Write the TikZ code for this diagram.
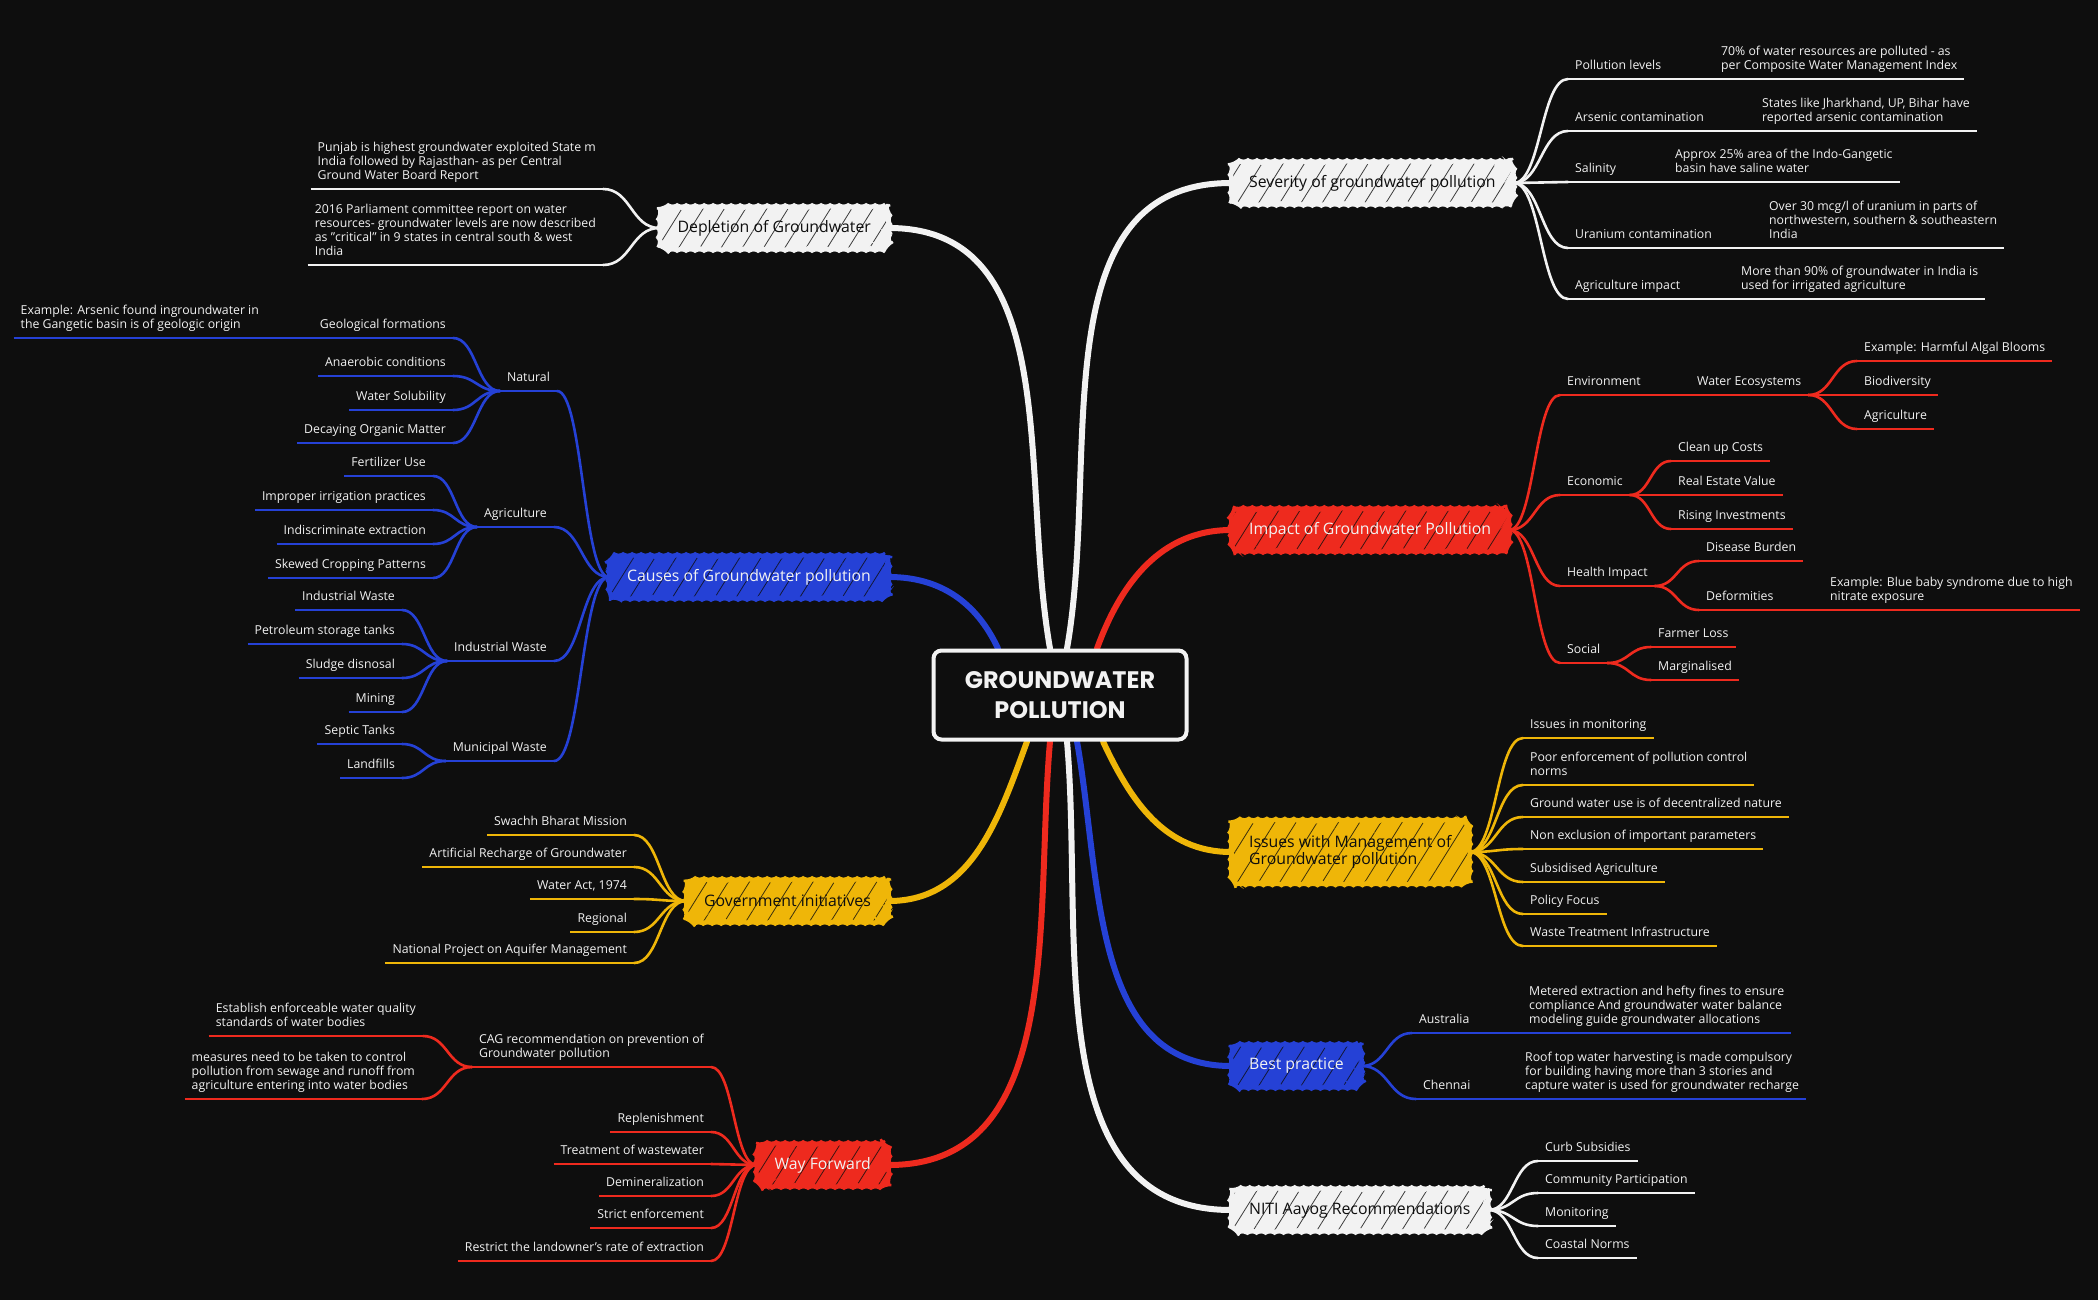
\documentclass[tikz,border=0pt]{standalone}
\usepackage{fontspec}
\setmainfont{Open Sans}
\newfontfamily\titlefont{Poppins}
\usetikzlibrary{%
  calc,%
  backgrounds,%
  patterns.meta,%
  decorations.pathmorphing%
}
\definecolor{bg}{HTML}{0E0E0E}
\definecolor{mred}{HTML}{EE2A1E}
\definecolor{mblue}{HTML}{2541D6}
\definecolor{myel}{HTML}{EFB608}
\definecolor{mwhite}{HTML}{F2F2F2}
\tikzset{leafR/.style = {anchor=south west, align=left, text=mwhite,
    inner xsep=0.35cm, inner ysep=0.25cm, font=\fontsize{17.5}{20}\selectfont,
    execute at end node=\strut,
    append after command={(\tikzlastnode.south west) edge[draw=#1, line width=0.13cm]
      (\tikzlastnode.south east)}},
  leafL/.style = {leafR=#1, anchor=south east, align=right},
  branch/.style = {rounded corners=0.35cm, fill=#1, inner xsep=0.9cm,
    minimum height=2.15cm, align=left, font=\fontsize{22.5}{25}\selectfont,
    postaction={pattern={Lines[angle=58,distance=0.9cm,line width=0.04cm]}, pattern color=bg!80!#1},
    postaction={draw=#1, line width=0.12cm, decorate,
      decoration={zigzag, segment length=0.45cm, amplitude=0.1cm}}},
  gwbox/.style = {draw=mwhite, line width=0.2cm, rounded corners=0.4cm, fill=bg,
    text=mwhite, align=center, minimum width=12.65cm, minimum height=4.45cm,
    font=\titlefont\bfseries\fontsize{34}{42}\selectfont},
  trunk/.style = {draw=#1, line width=0.3cm, line cap=round},
  twig/.style = {draw=#1, line width=0.13cm, line cap=round},
  fork/.style = {to path={let \p1=(\tikztostart), \p2=(\tikztotarget) in
    .. controls ({(\x1+\x2)/2},\y1) and ({(\x1+\x2)/2},\y2) .. (\tikztotarget)}}}

\begin{document}
\begin{tikzpicture}[x=0.05cm, y=-0.05cm]
  \useasboundingbox (0,0) rectangle (2098,1300);
  \node[gwbox] (gw) at (1060,695) {GROUNDWATER\\POLLUTION};

  % severity
  \node[branch=mwhite, text=bg, anchor=west] (sev) at (1231,183) {Severity of groundwater pollution};
  \node[leafR=mwhite] (sev1) at (1568,79) {Pollution levels};
  \node[leafR=mwhite] (sev1a) at (1714,79) {70\% of water resources are polluted - as\\per Composite Water Management Index};
  \node[leafR=mwhite] (sev2) at (1568,131) {Arsenic contamination};
  \node[leafR=mwhite] (sev2a) at (1755,131) {States like Jharkhand, UP, Bihar have\\reported arsenic contamination};
  \node[leafR=mwhite] (sev3) at (1568,182) {Salinity};
  \node[leafR=mwhite] (sev3a) at (1668,182) {Approx 25\% area of the Indo-Gangetic\\basin have saline water};
  \node[leafR=mwhite] (sev4) at (1568,248) {Uranium contamination};
  \node[leafR=mwhite] (sev4a) at (1762,248) {Over 30 mcg/l of uranium in parts of\\northwestern, southern \& southeastern\\India};
  \node[leafR=mwhite] (sev5) at (1568,299) {Agriculture impact};
  \node[leafR=mwhite] (sev5a) at (1734,299) {More than 90\% of groundwater in India is\\used for irrigated agriculture};

  % impact
  \node[branch=mred, text=mwhite, anchor=west] (imp) at (1231,530) {Impact of Groundwater Pollution};
  \node[leafR=mred] (env) at (1560,395) {Environment};
  \node[leafR=mred] (eco) at (1690,395) {Water Ecosystems};
  \node[leafR=mred] (alg) at (1857,361) {Example: Harmful Algal Blooms};
  \node[leafR=mred] (bio) at (1857,395) {Biodiversity};
  \node[leafR=mred] (agri) at (1857,429) {Agriculture};
  \node[leafR=mred] (econ) at (1560,495) {Economic};
  \node[leafR=mred] (cln) at (1671,461) {Clean up Costs};
  \node[leafR=mred] (est) at (1671,495) {Real Estate Value};
  \node[leafR=mred] (inv) at (1671,529) {Rising Investments};
  \node[leafR=mred] (hlt) at (1560,586) {Health Impact};
  \node[leafR=mred] (dis) at (1699,561) {Disease Burden};
  \node[leafR=mred] (dfm) at (1699,610) {Deformities};
  \node[leafR=mred] (dfm1) at (1823,610) {Example: Blue baby syndrome due to high\\nitrate exposure};
  \node[leafR=mred] (soc) at (1560,663) {Social};
  \node[leafR=mred] (far) at (1651,647) {Farmer Loss};
  \node[leafR=mred] (mar) at (1651,680) {Marginalised};

  % issues
  \node[branch=myel, text=bg, anchor=west, minimum height=3.2cm] (iss) at (1231,852) {Issues with Management of\\Groundwater pollution};
  \node[leafR=myel] (iss1) at (1523,738) {Issues in monitoring};
  \node[leafR=myel] (iss2) at (1523,785) {Poor enforcement of pollution control\\norms};
  \node[leafR=myel] (iss3) at (1523,817) {Ground water use is of decentralized nature};
  \node[leafR=myel] (iss4) at (1523,849) {Non exclusion of important parameters};
  \node[leafR=myel] (iss5) at (1523,882) {Subsidised Agriculture};
  \node[leafR=myel] (iss6) at (1523,914) {Policy Focus};
  \node[leafR=myel] (iss7) at (1523,946) {Waste Treatment Infrastructure};

  % best practice
  \node[branch=mblue, text=mwhite, anchor=west] (best) at (1231,1066) {Best practice};
  \node[leafR=mblue] (aus) at (1412,1033) {Australia};
  \node[leafR=mblue] (aus1) at (1522,1033) {Metered extraction and hefty fines to ensure\\compliance And groundwater water balance\\modeling guide groundwater allocations};
  \node[leafR=mblue] (che) at (1416,1099) {Chennai};
  \node[leafR=mblue] (che1) at (1518,1099) {Roof top water harvesting is made compulsory\\for building having more than 3 stories and\\capture water is used for groundwater recharge};

  % niti aayog
  \node[branch=mwhite, text=bg, anchor=west] (niti) at (1231,1210) {NITI Aayog Recommendations};
  \node[leafR=mwhite] (niti1) at (1538,1161) {Curb Subsidies};
  \node[leafR=mwhite] (niti2) at (1538,1193) {Community Participation};
  \node[leafR=mwhite] (niti3) at (1538,1226) {Monitoring};
  \node[leafR=mwhite] (niti4) at (1538,1258) {Coastal Norms};

  % depletion
  \node[branch=mwhite, text=bg, anchor=east] (dep) at (889,228) {Depletion of Groundwater};
  \node[leafL=mwhite, align=left] (dep1) at (603,189) {Punjab is highest groundwater exploited State m\\India followed by Rajasthan- as per Central\\Ground Water Board Report};
  \node[leafL=mwhite, align=left] (dep2) at (603,265) {2016 Parliament committee report on water\\resources- groundwater levels are now described\\as "critical" in 9 states in central south \& west\\India};

  % causes
  \node[branch=mblue, text=mwhite, anchor=east] (cau) at (889,577) {Causes of Groundwater pollution};
  \node[leafL=mblue] (nat) at (557,391) {Natural};
  \node[leafL=mblue] (geo) at (453,338) {Geological formations};
  \node[leafL=mblue, align=left] (geo1) at (266,338) {Example: Arsenic found ingroundwater in\\the Gangetic basin is of geologic origin};
  \node[leafL=mblue] (ana) at (453,376) {Anaerobic conditions};
  \node[leafL=mblue] (sol) at (453,410) {Water Solubility};
  \node[leafL=mblue] (dec) at (453,443) {Decaying Organic Matter};
  \node[leafL=mblue] (agr) at (554,527) {Agriculture};
  \node[leafL=mblue] (fer) at (433,476) {Fertilizer Use};
  \node[leafL=mblue] (irr) at (433,510) {Improper irrigation practices};
  \node[leafL=mblue] (ext) at (433,544) {Indiscriminate extraction};
  \node[leafL=mblue] (skw) at (433,578) {Skewed Cropping Patterns};
  \node[leafL=mblue] (ind) at (554,661) {Industrial Waste};
  \node[leafL=mblue] (ind1) at (402,610) {Industrial Waste};
  \node[leafL=mblue] (pet) at (402,644) {Petroleum storage tanks};
  \node[leafL=mblue] (slu) at (402,678) {Sludge disnosal};
  \node[leafL=mblue] (min) at (402,712) {Mining};
  \node[leafL=mblue] (mun) at (554,761) {Municipal Waste};
  \node[leafL=mblue] (sep) at (402,744) {Septic Tanks};
  \node[leafL=mblue] (lan) at (402,778) {Landfills};

  % government
  \node[branch=myel, text=bg, anchor=east] (gov) at (889,901) {Government initiatives};
  \node[leafL=myel] (gov1) at (634,835) {Swachh Bharat Mission};
  \node[leafL=myel] (gov2) at (634,867) {Artificial Recharge of Groundwater};
  \node[leafL=myel] (gov3) at (634,899) {Water Act, 1974};
  \node[leafL=myel] (gov4) at (634,932) {Regional};
  \node[leafL=myel] (gov5) at (634,963) {National Project on Aquifer Management};

  % way forward
  \node[branch=mred, text=mwhite, anchor=east] (way) at (889,1165) {Way Forward};
  \node[leafL=mred, align=left] (cag) at (711,1067) {CAG recommendation on prevention of\\Groundwater pollution};
  \node[leafL=mred, align=left] (cag1) at (423,1036) {Establish enforceable water quality\\standards of water bodies};
  \node[leafL=mred, align=left] (cag2) at (422,1099) {measures need to be taken to control\\pollution from sewage and runoff from\\agriculture entering into water bodies};
  \node[leafL=mred] (way1) at (711,1132) {Replenishment};
  \node[leafL=mred] (way2) at (711,1164) {Treatment of wastewater};
  \node[leafL=mred] (way3) at (711,1196) {Demineralization};
  \node[leafL=mred] (way4) at (711,1228) {Strict enforcement};
  \node[leafL=mred] (way5) at (711,1261) {Restrict the landowner's rate of extraction};

  \begin{scope}[on background layer]
    \fill[bg] (0,0) rectangle (2098,1300);
    \draw[trunk=mwhite] ($(gw.north)+(-10,0)$) to[out=100,in=0] (dep.east);
    \draw[trunk=mblue] ($(gw.north)+(-62,0)$) to[out=115,in=0] (cau.east);
    \draw[trunk=mwhite] ($(gw.north)+(7,0)$) to[out=80,in=180] (sev.west);
    \draw[trunk=mred] ($(gw.north)+(37,0)$) to[out=70,in=180] (imp.west);
    \draw[trunk=myel] ($(gw.south)+(-33,0)$) to[out=-110,in=0] (gov.east);
    \draw[trunk=mred] ($(gw.south)+(-10,0)$) to[out=-95,in=0] (way.east);
    \draw[trunk=myel] ($(gw.south)+(43,0)$) to[out=-65,in=180] (iss.west);
    \draw[trunk=mblue] ($(gw.south)+(17,0)$) to[out=-80,in=180] (best.west);
    \draw[trunk=mwhite] ($(gw.south)+(7,0)$) to[out=-85,in=180] (niti.west);

    \foreach \c in {sev1,sev2,sev3,sev4,sev5}
      \draw[twig=mwhite] (sev.east) to[fork] (\c.south west);
    \foreach \c in {env,econ,hlt,soc}
      \draw[twig=mred] (imp.east) to[fork] (\c.south west);
    \foreach \p/\c in {eco/alg,eco/bio,eco/agri,econ/cln,econ/est,econ/inv,hlt/dis,hlt/dfm,soc/far,soc/mar}
      \draw[twig=mred] (\p.south east) to[fork] (\c.south west);
    \foreach \p/\c in {sev1/sev1a,sev2/sev2a,sev3/sev3a,sev4/sev4a,sev5/sev5a}
      \draw[twig=mwhite] (\p.south east) -- (\c.south west);
    \draw[twig=mred] (env.south east) -- (eco.south west);
    \draw[twig=mred] (dfm.south east) -- (dfm1.south west);
    \foreach \c in {iss1,iss2,iss3,iss4,iss5,iss6,iss7}
      \draw[twig=myel] (iss.east) to[fork] (\c.south west);
    \foreach \c/\d in {aus/aus1,che/che1} {
      \draw[twig=mblue] (best.east) to[fork] (\c.south west);
      \draw[twig=mblue] (\c.south east) -- (\d.south west);
    }
    \foreach \c in {niti1,niti2,niti3,niti4}
      \draw[twig=mwhite] (niti.east) to[fork] (\c.south west);

    \foreach \c in {dep1,dep2}
      \draw[twig=mwhite] (dep.west) to[fork] (\c.south east);
    \foreach \c in {nat,agr,ind,mun}
      \draw[twig=mblue] (cau.west) to[fork] (\c.south east);
    \foreach \p/\c in {nat/geo,nat/ana,nat/sol,nat/dec,agr/fer,agr/irr,agr/ext,agr/skw,ind/ind1,ind/pet,ind/slu,ind/min,mun/sep,mun/lan}
      \draw[twig=mblue] (\p.south west) to[fork] (\c.south east);
    \draw[twig=mblue] (geo.south west) -- (geo1.south east);
    \foreach \c in {gov1,gov2,gov3,gov4,gov5}
      \draw[twig=myel] (gov.west) to[fork] (\c.south east);
    \foreach \c in {cag,way1,way2,way3,way4,way5}
      \draw[twig=mred] (way.west) to[fork] (\c.south east);
    \foreach \c in {cag1,cag2}
      \draw[twig=mred] (cag.south west) to[fork] (\c.south east);
  \end{scope}
\end{tikzpicture}
\end{document}
